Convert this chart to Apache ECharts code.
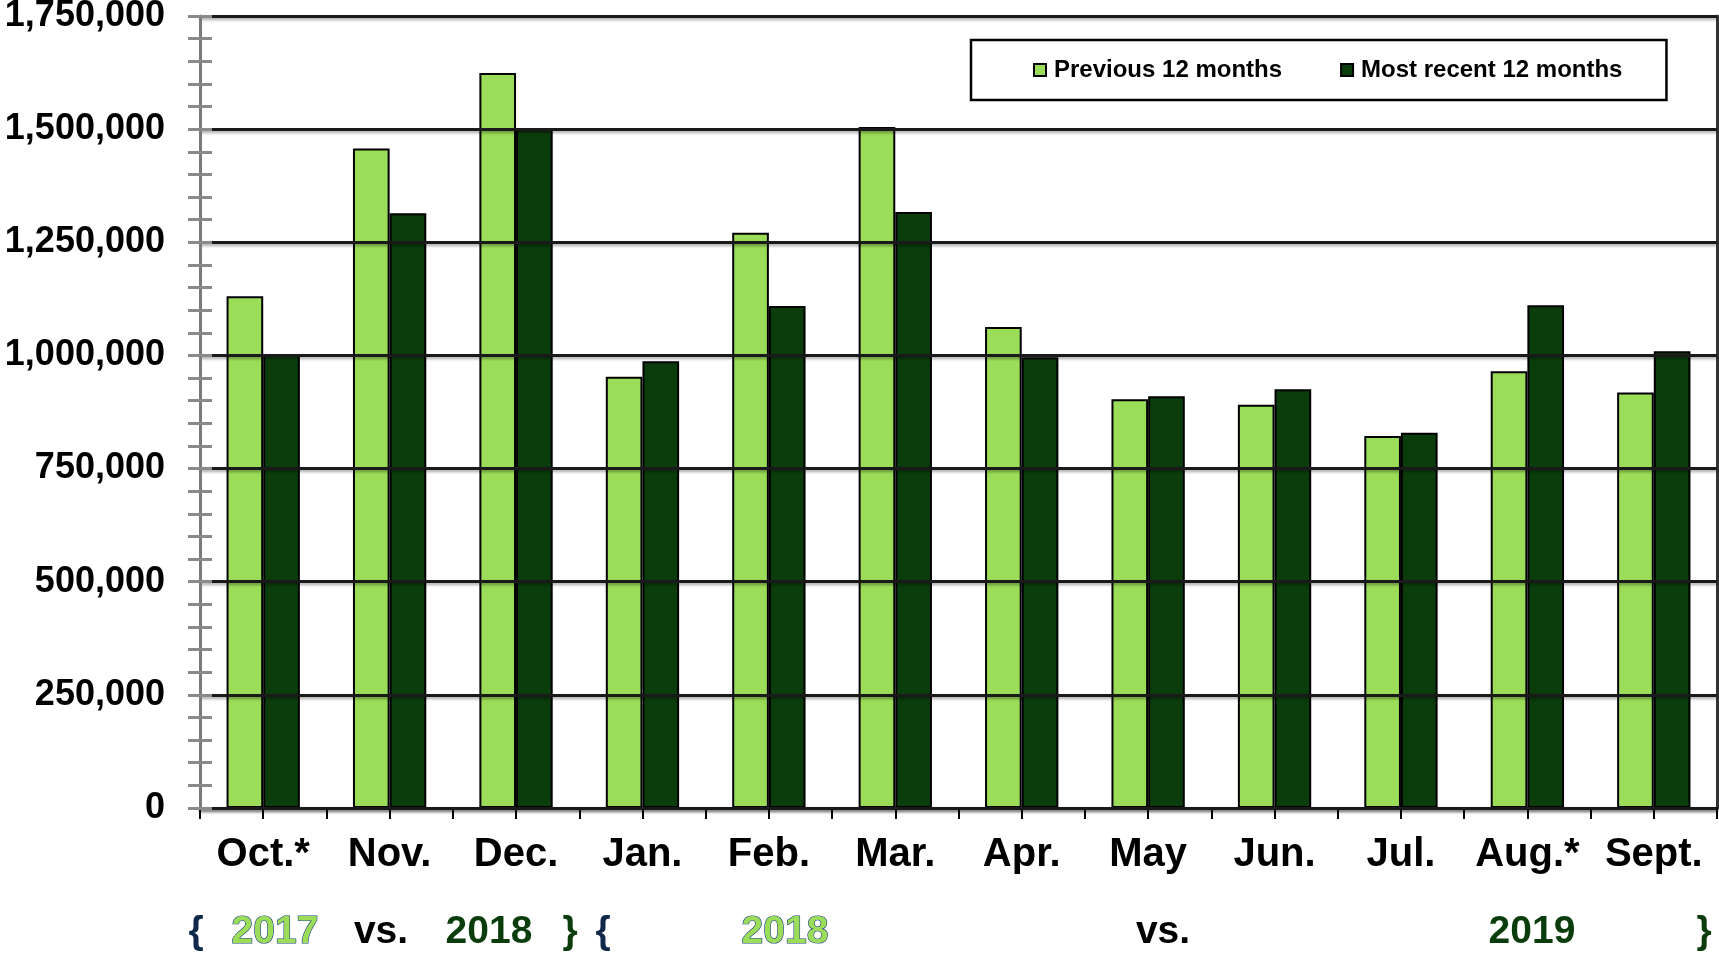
<!DOCTYPE html>
<html><head><meta charset="utf-8">
<script src="https://cdn.jsdelivr.net/npm/echarts@6/dist/echarts.min.js"></script>
<style>html,body{margin:0;padding:0;background:#fff}#c{width:1719px;height:954px}</style>
</head><body><div id="c"></div>
<script>
const months = ['Oct.*','Nov.','Dec.','Jan.','Feb.','Mar.','Apr.','May','Jun.','Jul.','Aug.*','Sept.'];
const previous12 = [1131000,1457000,1624000,953000,1271000,1505000,1063000,903000,891000,822000,965000,918000];
const recent12 = [1003000,1314000,1500000,987000,1109000,1317000,996000,910000,925000,829000,1111000,1009000];
const seriesNames = ['Previous 12 months','Most recent 12 months'];
const yMin = 0, yMax = 1750000, yStep = 250000;
const periodLabels = ['{','2017','vs.','2018','}','{','2018','vs.','2019','}'];

const LIGHT = '#9bdd58', DARK = '#0a3d0b', NAVY = '#10294a';
const wide = '"Liberation Sans",Arial,sans-serif';

const chart = echarts.init(document.getElementById('c'), null, {renderer:'canvas'});

// bottom period row (positions are layout only)
const px = [196, 275, 381, 489, 570, 603, 785, 1163, 1532, 1704];
const pStyle = [
  {fill:NAVY},
  {fill:LIGHT, stroke:'#1d3f8a', lineWidth:1.2},
  {fill:'#000'},
  {fill:DARK},
  {fill:DARK},
  {fill:NAVY},
  {fill:LIGHT, stroke:'#1d3f8a', lineWidth:1.2},
  {fill:'#000'},
  {fill:DARK},
  {fill:DARK}
];
const graphics = periodLabels.map((t,i)=>({
  type:'text', x:px[i], y:932, z:10,
  style: Object.assign({text:t, font:'bold 39px '+wide, align:'center', verticalAlign:'middle'}, pStyle[i])
}));

const option = {
  backgroundColor:'#fff',
  animation:false,
  grid:{left:200, right:2, top:16, bottom:146, containLabel:false, outerBoundsMode:'none'},
  legend:{
    data:seriesNames,
    left:971, top:40,
    orient:'horizontal',
    padding:[18,44,18,62],
    itemGap:58,
    itemWidth:12, itemHeight:12,
    icon:'rect',
    borderColor:'#000', borderWidth:2.5,
    backgroundColor:'#fff',
    textStyle:{fontFamily:wide, fontWeight:'bold', fontSize:24, color:'#000', padding:[0,0,0,3]}
  },
  xAxis:[{
    type:'category', data:months, position:'bottom',
    axisLine:{show:true, lineStyle:{color:'#000', width:3, shadowColor:'rgba(0,0,0,0.35)', shadowBlur:3, shadowOffsetY:2}},
    axisTick:{show:false},
    axisLabel:{fontFamily:wide, fontWeight:'bold', fontSize:40, color:'#000', margin:27, interval:0},
    splitLine:{show:false}
  },{
    type:'value', min:0, max:24, interval:1, position:'bottom',
    axisLine:{show:false},
    axisTick:{show:true, length:11, lineStyle:{color:'#000', width:2}},
    axisLabel:{show:false},
    splitLine:{show:false}
  }],
  yAxis:[{
    type:'value', min:yMin, max:yMax, interval:yStep, position:'left',
    axisLine:{show:true, lineStyle:{color:'#7a7a7a', width:3}},
    axisTick:{show:true, length:12, lineStyle:{color:'#8a8a8a', width:3}},
    minorTick:{show:true, splitNumber:5, length:12, lineStyle:{color:'#8a8a8a', width:3}},
    axisLabel:{fontFamily:wide, fontWeight:'bold', fontSize:36, color:'#000', margin:35,
      formatter:v=>v.toLocaleString('en-US')},
    splitLine:{show:true, lineStyle:{color:'#1a1a1a', width:3, shadowColor:'rgba(0,0,0,0.35)', shadowBlur:3, shadowOffsetY:2}},
    z:3
  },{
    type:'value', min:yMin, max:yMax, interval:yStep, position:'left',
    axisLine:{show:false},
    axisTick:{show:true, inside:true, length:12, lineStyle:{color:'#8a8a8a', width:3}},
    minorTick:{show:true, splitNumber:5, length:12, lineStyle:{color:'#8a8a8a', width:3}},
    axisLabel:{show:false},
    splitLine:{show:false},
    z:3
  },{
    type:'value', min:yMin, max:yMax, interval:yStep, position:'right',
    axisLine:{show:true, lineStyle:{color:'#333', width:3}},
    axisTick:{show:false}, axisLabel:{show:false}, splitLine:{show:false}
  }],
  series:[{
    name:seriesNames[0], type:'bar', data:previous12, xAxisIndex:0, yAxisIndex:0,
    barWidth:'29%', barGap:'0%',
    itemStyle:{color:LIGHT, borderColor:'#000', borderWidth:2}
  },{
    name:seriesNames[1], type:'bar', data:recent12, xAxisIndex:0, yAxisIndex:0,
    barWidth:'29%', barGap:'0%',
    itemStyle:{color:DARK, borderColor:'#000', borderWidth:2}
  }],
  graphic:graphics
};
chart.setOption(option);
</script></body></html>
